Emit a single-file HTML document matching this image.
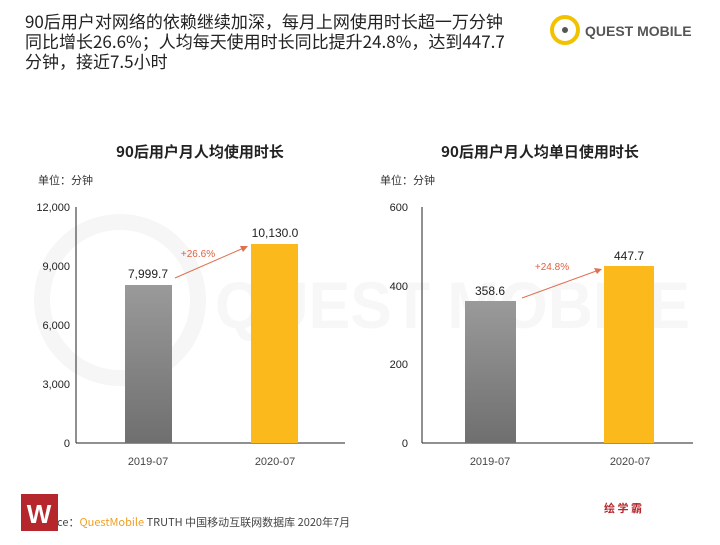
<!DOCTYPE html>
<html><head><meta charset="utf-8"><style>
body{margin:0;width:720px;height:540px;background:#fff;overflow:hidden;font-family:"Liberation Sans","Noto Sans CJK SC",sans-serif;}
</style></head><body>
<svg width="720" height="540" xmlns="http://www.w3.org/2000/svg" font-family="Liberation Sans, Noto Sans CJK SC, sans-serif">
<defs>
<linearGradient id="g" x1="0" y1="0" x2="0" y2="1"><stop offset="0" stop-color="#9a9a9a"/><stop offset="1" stop-color="#6f6f6f"/></linearGradient>
</defs>
<!-- watermark -->
<circle cx="120" cy="300" r="78" fill="none" stroke="#f6f6f6" stroke-width="16"/>
<text x="215" y="328" font-size="66" fill="#f7f7f7" font-weight="bold" textLength="475" lengthAdjust="spacingAndGlyphs">QUEST MOBILE</text>
<!-- title -->
<g font-size="17" fill="#222" font-family="Noto Sans CJK SC, sans-serif">
<text x="25" y="28">90后用户对网络的依赖继续加深，每月上网使用时长超一万分钟</text>
<text x="25" y="48">同比增长26.6%；人均每天使用时长同比提升24.8%，达到447.7</text>
<text x="25" y="68">分钟，接近7.5小时</text>
</g>
<circle cx="565" cy="30" r="13" fill="none" stroke="#f2c200" stroke-width="4"/>
<circle cx="565" cy="30" r="3" fill="#555"/>
<text x="585" y="36" font-size="14" fill="#555" font-weight="bold">QUEST MOBILE</text>
<!-- left chart -->
<text x="200" y="157" font-size="15" font-weight="bold" fill="#222" text-anchor="middle" font-family="Noto Sans CJK SC, sans-serif">90后用户月人均使用时长</text>
<text x="38" y="184" font-size="11" fill="#333" font-family="Noto Sans CJK SC, sans-serif">单位：分钟</text>
<g font-size="11" fill="#222" text-anchor="end">
<text x="70" y="211">12,000</text><text x="70" y="270">9,000</text><text x="70" y="329">6,000</text><text x="70" y="388">3,000</text><text x="70" y="447">0</text>
</g>
<line x1="76" y1="207" x2="76" y2="443" stroke="#222"/>
<line x1="76" y1="443" x2="345" y2="443" stroke="#222"/>
<rect x="125" y="285" width="47" height="158" fill="url(#g)"/>
<rect x="251" y="244" width="47" height="199" fill="#fbb91c"/>
<text x="148" y="278" font-size="12" text-anchor="middle" fill="#222">7,999.7</text>
<text x="275" y="237" font-size="12" text-anchor="middle" fill="#222">10,130.0</text>
<text x="198" y="257" font-size="10" text-anchor="middle" fill="#e06040">+26.6%</text>
<line x1="175" y1="278" x2="246" y2="247" stroke="#e07050"/>
<polygon points="248,246 240,246 243,252" fill="#e07050"/>
<g font-size="11" fill="#444" text-anchor="middle"><text x="148" y="465">2019-07</text><text x="275" y="465">2020-07</text></g>
<!-- right chart -->
<text x="540" y="157" font-size="15" font-weight="bold" fill="#222" text-anchor="middle" font-family="Noto Sans CJK SC, sans-serif">90后用户月人均单日使用时长</text>
<text x="380" y="184" font-size="11" fill="#333" font-family="Noto Sans CJK SC, sans-serif">单位：分钟</text>
<g font-size="11" fill="#222" text-anchor="end">
<text x="408" y="211">600</text><text x="408" y="290">400</text><text x="408" y="368">200</text><text x="408" y="447">0</text>
</g>
<line x1="422" y1="207" x2="422" y2="443" stroke="#222"/>
<line x1="422" y1="443" x2="693" y2="443" stroke="#222"/>
<rect x="465" y="301" width="51" height="142" fill="url(#g)"/>
<rect x="604" y="266" width="50" height="177" fill="#fbb91c"/>
<text x="490" y="295" font-size="12" text-anchor="middle" fill="#222">358.6</text>
<text x="629" y="260" font-size="12" text-anchor="middle" fill="#222">447.7</text>
<text x="552" y="270" font-size="10" text-anchor="middle" fill="#e06040">+24.8%</text>
<line x1="522" y1="298" x2="599" y2="270" stroke="#e07050"/>
<polygon points="602,269 594,268 597,274" fill="#e07050"/>
<g font-size="11" fill="#444" text-anchor="middle"><text x="490" y="465">2019-07</text><text x="630" y="465">2020-07</text></g>
<!-- footer -->
<text x="33" y="526" font-size="11" fill="#444" font-family="Noto Sans CJK SC, sans-serif">Source：<tspan fill="#f0a020">QuestMobile</tspan> TRUTH 中国移动互联网数据库 2020年7月</text>
<rect x="21" y="494" width="37" height="37" fill="#b5272d"/>
<text x="39" y="523" font-size="26" font-weight="bold" fill="#fff" text-anchor="middle">W</text>
<text x="623" y="512" font-size="11" font-weight="bold" fill="#b5272d" text-anchor="middle" font-family="Noto Sans CJK SC, sans-serif">绘 学 霸</text>
</svg>
</body></html>
